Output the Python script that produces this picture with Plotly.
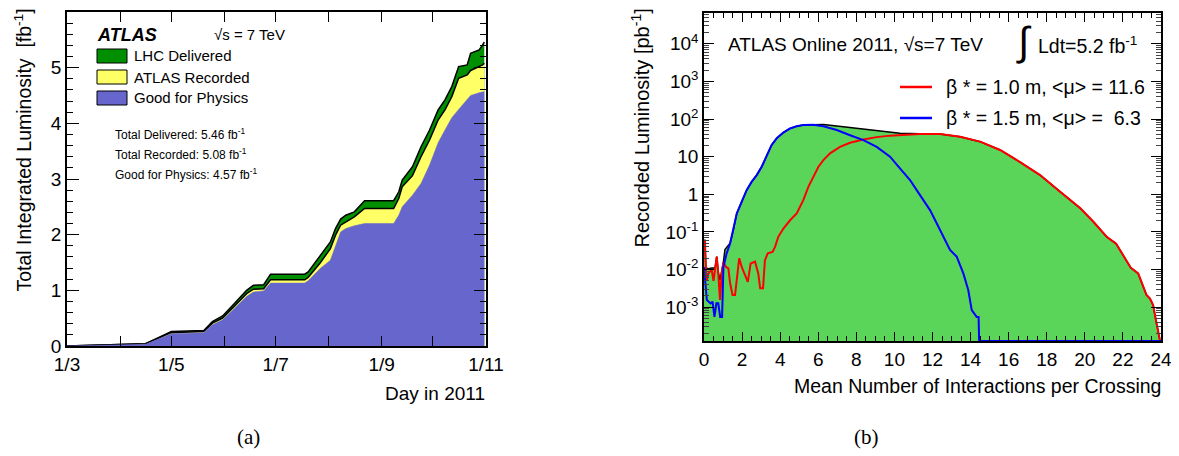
import plotly.graph_objects as go

# ---------------- Panel (a): cumulative luminosity vs day ----------------
days = ["2011-03-01", "2011-03-14", "2011-03-24", "2011-04-16", "2011-05-01", "2011-05-20",
        "2011-05-25", "2011-05-31", "2011-06-07", "2011-06-14", "2011-06-18", "2011-06-24",
        "2011-06-28", "2011-07-18", "2011-07-20", "2011-07-27", "2011-08-02", "2011-08-05",
        "2011-08-08", "2011-08-11", "2011-08-16", "2011-08-22", "2011-09-08", "2011-09-11",
        "2011-09-13", "2011-09-19", "2011-09-24", "2011-09-29", "2011-10-04", "2011-10-08",
        "2011-10-12", "2011-10-16", "2011-10-21", "2011-10-23", "2011-10-28", "2011-10-30",
        "2011-10-31"]
delivered = [0, 0.01, 0.03, 0.04, 0.26, 0.28, 0.44, 0.54, 0.77, 1.00, 1.09, 1.10, 1.29, 1.29,
             1.33, 1.62, 1.87, 2.11, 2.28, 2.35, 2.41, 2.61, 2.61, 2.77, 2.98, 3.22, 3.58, 3.88,
             4.24, 4.42, 4.66, 5.02, 5.05, 5.26, 5.32, 5.41, 5.46]
recorded = [0, 0.01, 0.03, 0.04, 0.24, 0.26, 0.41, 0.50, 0.72, 0.94, 1.02, 1.03, 1.19, 1.19,
            1.23, 1.49, 1.75, 1.99, 2.17, 2.23, 2.32, 2.47, 2.47, 2.65, 2.86, 3.06, 3.40, 3.70,
            4.06, 4.24, 4.48, 4.81, 4.87, 4.95, 5.02, 5.05, 5.08]
good = [0, 0.01, 0.02, 0.03, 0.22, 0.24, 0.38, 0.47, 0.68, 0.89, 0.97, 0.99, 1.13, 1.13,
        1.17, 1.39, 1.54, 1.78, 2.05, 2.11, 2.16, 2.20, 2.20, 2.35, 2.50, 2.71, 2.92, 3.25,
        3.65, 3.88, 4.10, 4.25, 4.42, 4.50, 4.55, 4.56, 4.57]
month_ticks = ["2011-03-01", "2011-04-01", "2011-05-01", "2011-06-01", "2011-07-01",
               "2011-08-01", "2011-09-01", "2011-10-01", "2011-11-01"]
month_labels = ["1/3", "", "1/5", "", "1/7", "", "1/9", "", "1/11"]

# ---------------- Panel (b): mu distribution ----------------
mu_total = [0.0, 0.05, 0.1, 0.25, 0.4, 0.58, 0.67, 0.75, 0.84, 0.93, 1.02, 1.1, 1.28, 1.37,
            1.54, 1.72, 1.98, 2.24, 2.5, 2.77, 3.03, 3.29, 3.55, 3.82, 4.17, 4.52, 4.87, 5.22,
            5.74, 6.27, 6.97, 7.67, 8.37, 9.07, 9.77, 10.29, 11.34, 12.39, 13.45, 14.5, 15.55,
            16.6, 17.65, 18.7, 19.75, 20.45, 21.15, 21.64, 22.02, 22.41, 22.8, 23.07, 23.24,
            23.42, 23.59, 23.73, 23.86, 23.95, 24.0]
lumi_total = [0.06, 0.06, 0.011, 0.0105, 0.011, 0.011, 0.022, 0.0085, 0.0052, 0.009, 0.016,
              0.034, 0.045, 0.05, 0.112, 0.31, 0.64, 1.3, 2.15, 3.26, 5.4, 10, 20.4, 31, 44,
              56.5, 65, 70, 72, 72, 65, 59, 54, 50, 46, 42, 40.5, 39.8, 33.9, 25.1, 15.1, 7.2,
              3.24, 1.17, 0.43, 0.186, 0.074, 0.049, 0.024, 0.0112, 0.0079, 0.0035, 0.0021,
              0.0017, 0.00112, 0.00046, 0.00022, 0, 0]
mu_b10 = [0.0, 0.05, 0.1, 0.14, 0.23, 0.4, 0.5, 0.58, 0.67, 0.75, 0.84, 0.93, 1.02, 1.15, 1.28,
          1.37, 1.5, 1.63, 1.72, 1.85, 1.98, 2.15, 2.3, 2.45, 2.68, 2.85, 2.95, 3.1, 3.2, 3.35,
          3.6, 3.73, 3.9, 4.17, 4.52, 4.87, 5.22, 5.48, 5.74, 6.01, 6.27, 6.62, 7.14, 7.67,
          8.37, 9.07, 9.77, 10.29, 11.34, 12.39, 13.45, 14.5, 15.55, 16.6, 17.65, 18.7, 19.75,
          20.45, 21.15, 21.64, 22.02, 22.41, 22.8, 23.07, 23.24, 23.42, 23.59, 23.73, 23.86,
          23.95, 24.0]
lumi_b10 = [0.055, 0.055, 0.01, 0.005, 0.0079, 0.01, 0.005, 0.01, 0.022, 0.0079, 0.00155,
            0.0079, 0.0158, 0.0117, 0.0107, 0.0043, 0.0021, 0.0021, 0.0051, 0.02, 0.0117,
            0.0071, 0.0047, 0.0145, 0.0162, 0.0079, 0.0032, 0.0032, 0.0178, 0.027, 0.0295,
            0.04, 0.074, 0.123, 0.204, 0.31, 0.71, 1.58, 2.95, 5.4, 8.1, 12.3, 18.2, 23.4,
            28.8, 33.1, 36.3, 37.2, 39.8, 39.8, 33.9, 25.1, 15.1, 7.2, 3.24, 1.17, 0.43, 0.186,
            0.074, 0.049, 0.024, 0.0112, 0.0079, 0.0035, 0.0021, 0.0017, 0.00112, 0.00046,
            0.00022, 0, 0]
mu_b15 = [0.0, 0.05, 0.15, 0.25, 0.35, 0.45, 0.55, 0.65, 0.75, 0.85, 0.95, 1.02, 1.19, 1.37,
          1.54, 1.72, 1.98, 2.24, 2.5, 2.77, 3.03, 3.29, 3.55, 3.82, 4.17, 4.52, 4.87, 5.22,
          5.74, 6.27, 6.97, 7.67, 8.37, 9.07, 9.77, 10.29, 10.82, 11.17, 11.52, 11.87, 12.22,
          12.57, 12.92, 13.27, 13.62, 13.88, 14.06, 14.32, 14.42, 14.45, 24.0]
lumi_b15 = [0.0117, 0.005, 0.00155, 0.0014, 0.00126, 0.0014, 0.00055, 0.00126, 0.00126,
            0.00055, 0.00055, 0.0117, 0.027, 0.049, 0.112, 0.31, 0.63, 1.29, 2.14, 3.24, 5.4,
            10, 20.4, 30.9, 43.7, 56.2, 64.6, 69.2, 70.8, 64.6, 51.3, 37.2, 27.5, 18.2, 10,
            4.9, 2.4, 1.29, 0.71, 0.38, 0.17, 0.074, 0.033, 0.022, 0.0079, 0.0028, 0.00083,
            0.00055, 0.00055, 0, 0]
mu_ticks = list(range(0, 25, 2))
log_ticks = [1e-3, 1e-2, 1e-1, 1, 10, 1e2, 1e3, 1e4]
log_labels = ["10<sup>-3</sup>", "10<sup>-2</sup>", "10<sup>-1</sup>", "1", "10",
              "10<sup>2</sup>", "10<sup>3</sup>", "10<sup>4</sup>"]

# ---------------- layout helpers ----------------
# the page body has an 8px margin, so the figure is placed 8px in from the top-left
OFF = 8
W, H = 1179 - OFF, 456 - OFF
FONT = "Liberation Sans, Arial, sans-serif"
SERIF = "Liberation Serif, DejaVu Serif, serif"
Y2_RANGE = [-3.9, 4.82]


def X(px):
    return (px - OFF) / W


def Y(py):
    return 1 - (py - OFF) / H


def floor_zero(vals):
    lo = 10 ** Y2_RANGE[0]
    return [v if v > 0 else lo for v in vals]


fig = go.Figure()

# Panel (a)
fig.add_trace(go.Scatter(x=days, y=delivered, mode="lines", fill="tozeroy",
                         fillcolor="#008F00", line=dict(color="black", width=1.5),
                         xaxis="x", yaxis="y", showlegend=False))
fig.add_trace(go.Scatter(x=days, y=recorded, mode="lines", fill="tozeroy",
                         fillcolor="#FFFF66", line=dict(color="black", width=1.5),
                         xaxis="x", yaxis="y", showlegend=False))
fig.add_trace(go.Scatter(x=days, y=good, mode="lines", fill="tozeroy",
                         fillcolor="#6666CC", line=dict(color="#6666CC", width=0.5),
                         xaxis="x", yaxis="y", showlegend=False))

# Panel (b)
fig.add_trace(go.Scatter(x=mu_total, y=floor_zero(lumi_total), mode="lines", fill="tozeroy",
                         fillcolor="#5AD55A", line=dict(color="black", width=1.5),
                         xaxis="x2", yaxis="y2", showlegend=False))
fig.add_trace(go.Scatter(x=mu_b10, y=floor_zero(lumi_b10), mode="lines",
                         line=dict(color="#FF0000", width=2),
                         xaxis="x2", yaxis="y2", showlegend=False))
fig.add_trace(go.Scatter(x=mu_b15, y=floor_zero(lumi_b15), mode="lines",
                         line=dict(color="#0000FF", width=2),
                         xaxis="x2", yaxis="y2", showlegend=False))

axis_common = dict(showline=True, linecolor="black", linewidth=1.5, mirror="ticks",
                   ticks="inside", tickcolor="black", showgrid=False, zeroline=False,
                   automargin=False,
                   tickfont=dict(family=FONT, size=19, color="black"))

minor_log = []
for d in range(-4, 5):
    for k in range(2, 10):
        v = k * 10 ** d
        if 10 ** Y2_RANGE[0] <= v <= 10 ** Y2_RANGE[1]:
            minor_log.append(v)

fig.update_layout(
    width=W, height=H, margin=dict(l=0, r=0, t=0, b=0, autoexpand=False),
    paper_bgcolor="white", plot_bgcolor="white",
    xaxis=dict(domain=[X(67), X(486)], anchor="y", type="date",
               range=["2011-03-01", "2011-11-01"], tickmode="array",
               tickvals=month_ticks, ticktext=month_labels, ticklen=10, tickwidth=1.2,
               **axis_common),
    yaxis=dict(domain=[Y(346), Y(12)], anchor="x", range=[0, 6], tickmode="array",
               tickvals=[0, 1, 2, 3, 4, 5, 6], ticklen=12, tickwidth=1.2,
               minor=dict(dtick=0.2, ticklen=6, ticks="inside", tickcolor="black"),
               **axis_common),
    xaxis2=dict(domain=[X(704), X(1161)], anchor="y2", range=[0, 24], tickmode="array",
                tickvals=mu_ticks, ticklen=9, tickwidth=1.2,
                minor=dict(dtick=0.5, ticklen=5, ticks="inside", tickcolor="black"),
                **axis_common),
    yaxis2=dict(domain=[Y(341), Y(13)], anchor="x2", type="log", range=Y2_RANGE,
                tickmode="array", tickvals=log_ticks, ticktext=log_labels, ticklen=10,
                tickwidth=1.2,
                minor=dict(tickmode="array", tickvals=minor_log, ticklen=5, ticks="inside",
                           tickcolor="#444444"),
                **axis_common),
)

ann = []


def txt(text, x, y, size=19, xanchor="left", yanchor="middle", family=FONT, angle=0):
    ann.append(dict(text=text, x=X(x), y=Y(y), xref="paper", yref="paper",
                    xanchor=xanchor, yanchor=yanchor, showarrow=False, textangle=angle,
                    borderpad=0,
                    font=dict(family=family, size=size, color="black")))


# Panel (a) texts
txt("<b><i>ATLAS</i></b>", 96, 35, size=18)
txt("√s = 7 TeV", 213, 35, size=15)
txt("LHC Delivered", 133, 56, size=15)
txt("ATLAS Recorded", 133, 77, size=15)
txt("Good for Physics", 133, 97, size=15)
txt("Total Delivered: 5.46 fb<sup>-1</sup>", 114, 134, size=12)
txt("Total Recorded: 5.08 fb<sup>-1</sup>", 114, 154, size=12)
txt("Good for Physics: 4.57 fb<sup>-1</sup>", 114, 174, size=12)
txt("Total Integrated Luminosity  [fb<sup>-1</sup>]", 22, 8, xanchor="center",
    yanchor="top", angle=-90, size=19.5)
txt("Day in 2011", 486, 393, xanchor="right", size=19)
txt("(a)", 248, 437, size=21, xanchor="center", family=SERIF)

# Panel (b) texts
txt("ATLAS Online 2011, √s=7 TeV", 727, 45, size=19)
txt("∫", 1024, 42, size=40, xanchor="center")
txt("Ldt=5.2 fb<sup>-1</sup>", 1037, 45, size=19.5)
txt("β * = 1.0 m, <μ> = 11.6", 945, 87, size=19.5)
txt("β * = 1.5 m, <μ> =\u00a0\u00a06.3", 945, 118, size=19.5)
txt("Recorded Luminosity [pb<sup>-1</sup>]", 640, 8, xanchor="center", yanchor="top",
    angle=-90, size=20)
txt("Mean Number of Interactions per Crossing", 1162, 386, xanchor="right", size=19.5)
txt("(b)", 866, 437, size=21, xanchor="center", family=SERIF)

shapes = []
for (y0, y1, col) in [(49, 63, "#008F00"), (70, 84, "#FFFF66"), (91, 105, "#6666CC")]:
    shapes.append(dict(type="rect", xref="paper", yref="paper", x0=X(97), x1=X(127),
                       y0=Y(y1), y1=Y(y0), fillcolor=col, line=dict(color="black", width=1)))
for (yy, col) in [(87, "#FF0000"), (118, "#0000FF")]:
    shapes.append(dict(type="line", xref="paper", yref="paper", x0=X(900), x1=X(932),
                       y0=Y(yy), y1=Y(yy), line=dict(color=col, width=2.5)))

fig.update_layout(annotations=ann, shapes=shapes)
fig.write_html("out.html")
